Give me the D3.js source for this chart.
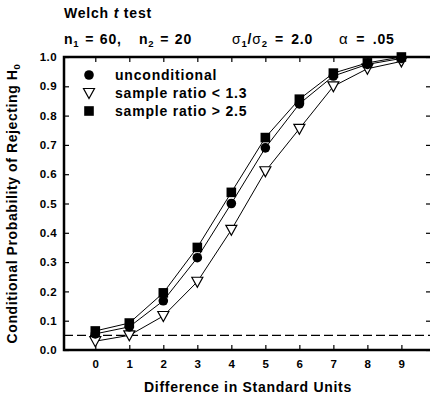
<!DOCTYPE html>
<html>
<head>
<meta charset="utf-8">
<script src="https://cdn.jsdelivr.net/npm/d3@7"></script>
<style>
  body { margin: 0; background: #fff; }
  svg { display: block; font-family: "Liberation Sans", Arial, sans-serif; font-weight: bold; }
  .curve { fill: none; stroke: #000; stroke-width: 1; }
</style>
</head>
<body>
<svg id="chart" width="430" height="397"></svg>
<script>
var differences = [0, 1, 2, 3, 4, 5, 6, 7, 8, 9]
var yTicks = [0.0, 0.1, 0.2, 0.3, 0.4, 0.5, 0.6, 0.7, 0.8, 0.9, 1.0]
var unconditional = [0.055, 0.079, 0.168, 0.315, 0.50, 0.69, 0.84, 0.935, 0.975, 0.995]
var ratioBelow13 = [0.03, 0.05, 0.116, 0.233, 0.41, 0.61, 0.755, 0.90, 0.96, 0.985]
var ratioAbove25 = [0.065, 0.092, 0.195, 0.35, 0.538, 0.725, 0.856, 0.945, 0.98, 1.0]
var alphaLevel = 0.05

var svg = d3.select('#chart')
var plotLeft = 64, plotRight = 432, plotTop = 57, plotBottom = 350

var x = d3.scaleLinear().domain([-0.92, 9.9]).range([plotLeft, plotRight])
var y = d3.scaleLinear().domain([0, 1]).range([plotBottom, plotTop])

// Header text
var _header = function(xPos, yPos, wordSpacing) {
  return svg.append('text').attr('x', xPos).attr('y', yPos)
    .attr('font-size', 14).attr('letter-spacing', 0.8)
    .attr('word-spacing', wordSpacing || 0)
}
var _sub = function(t, base, sub, rest, baseWeight) {
  t.append('tspan').attr('font-weight', baseWeight || 'bold').text(base)
  t.append('tspan').attr('font-size', 9.5).attr('dy', 3).text(sub)
  t.append('tspan').attr('dy', -3).text(rest)
}

_header(64, 18).call(function(t) {
  t.append('tspan').text('Welch ')
  t.append('tspan').attr('font-style', 'italic').text('t')
  t.append('tspan').text(' test')
})
_header(64, 44, 1).call(function(t) { _sub(t, 'n', '1', ' = 60,') })
_header(139, 44, 1).call(function(t) { _sub(t, 'n', '2', ' = 20') })
_header(232, 44, 2.5).call(function(t) {
  _sub(t, 'σ', '1', '/', 'normal')
  t.append('tspan').attr('font-weight', 'normal').text('σ')
  t.append('tspan').attr('font-size', 9.5).attr('dy', 3).text('2')
  t.append('tspan').attr('dy', -3).text(' = 2.0')
})
_header(339, 44, 3).call(function(t) {
  t.append('tspan').attr('font-weight', 'normal').attr('font-size', 15).text('α')
  t.append('tspan').text(' = .05')
})

// Frame and inward ticks
var axisG = svg.append('g')
axisG.append('rect').attr('x', plotLeft).attr('y', plotTop)
  .attr('width', plotRight - plotLeft).attr('height', plotBottom - plotTop)
  .attr('fill', 'none').attr('stroke', '#000').attr('stroke-width', 2.5)

var bottomAxis = d3.axisBottom(x).tickValues(differences).tickSize(-5).tickPadding(10)
  .tickFormat(d3.format('d'))
axisG.append('g').attr('transform', 'translate(0,' + plotBottom + ')').call(bottomAxis)

var topAxis = d3.axisTop(x).tickValues(differences).tickSize(-5).tickFormat('')
axisG.append('g').attr('transform', 'translate(0,' + plotTop + ')').call(topAxis)

var leftAxis = d3.axisLeft(y).tickValues(yTicks).tickSize(-5).tickPadding(7)
  .tickFormat(d3.format('.1f'))
axisG.append('g').attr('transform', 'translate(' + plotLeft + ',0)').call(leftAxis)

var rightAxis = d3.axisRight(y).tickValues(yTicks).tickSize(-5).tickFormat('')
axisG.append('g').attr('transform', 'translate(' + (plotRight - 1) + ',0)').call(rightAxis)

axisG.selectAll('.domain').remove()
axisG.selectAll('.tick line').attr('stroke', '#000').attr('stroke-width', 1.2)
axisG.selectAll('.tick text').attr('fill', '#000')
  .attr('font-family', '"Liberation Sans", Arial, sans-serif')
  .attr('font-weight', 'bold').attr('font-size', 11.5).attr('letter-spacing', 0.4)

// Reference line at alpha
svg.append('line')
  .attr('x1', plotLeft).attr('x2', plotRight)
  .attr('y1', y(alphaLevel)).attr('y2', y(alphaLevel))
  .attr('stroke', '#000').attr('stroke-width', 1.2).attr('stroke-dasharray', '9,4')

// Axis labels
svg.append('text').attr('x', 248).attr('y', 392)
  .attr('text-anchor', 'middle').attr('font-size', 14).attr('letter-spacing', 0.7)
  .text('Difference in Standard Units')

svg.append('text')
  .attr('transform', 'translate(17,' + ((plotTop + plotBottom) / 2) + ') rotate(-90)')
  .attr('text-anchor', 'middle').attr('font-size', 14).attr('letter-spacing', 0.6)
  .call(function(t) {
    t.append('tspan').text('Conditional Probability of Rejecting H')
    t.append('tspan').attr('font-size', 9.5).attr('dy', 3).text('0')
  })

// Series
var symbols = {
  circle: function(g) { g.append('circle').attr('r', 4.8).attr('fill', '#000') },
  triangle: function(g) {
    g.append('path').attr('d', 'M-5.5,-4.5L5.5,-4.5L0,5.5Z')
      .attr('fill', '#fff').attr('stroke', '#000').attr('stroke-width', 1.2)
  },
  square: function(g) {
    g.append('rect').attr('x', -4.8).attr('y', -4.8).attr('width', 9.6).attr('height', 9.6)
      .attr('fill', '#000')
  }
}

var series = [
  { name: 'sample ratio < 1.3', values: ratioBelow13, symbol: 'triangle' },
  { name: 'unconditional', values: unconditional, symbol: 'circle' },
  { name: 'sample ratio > 2.5', values: ratioAbove25, symbol: 'square' }
]

var lineFunction = d3.line()
  .x(function(d, i) { return x(differences[i]) })
  .y(function(d) { return y(d) })

svg.selectAll('.curve').data(series).enter().append('path')
  .attr('class', 'curve')
  .attr('d', function(s) { return lineFunction(s.values) })

series.forEach(function(s) {
  svg.append('g').selectAll('g.pt')
    .data(s.values).enter().append('g').attr('class', 'pt')
    .attr('transform', function(d, i) { return 'translate(' + x(differences[i]) + ' ' + y(d) + ')' })
    .each(function() { symbols[s.symbol](d3.select(this)) })
})

// Legend
var legendItems = [series[1], series[0], series[2]]
var legend = svg.append('g').selectAll('g')
  .data(legendItems).enter().append('g')
  .attr('transform', function(d, i) { return 'translate(89 ' + (75 + i * 18) + ')' })
legend.each(function(s) { symbols[s.symbol](d3.select(this)) })
legend.append('text').attr('x', 26).attr('dy', '0.35em')
  .attr('font-size', 14).attr('letter-spacing', 0.8)
  .text(function(s) { return s.name })
</script>
</body>
</html>
